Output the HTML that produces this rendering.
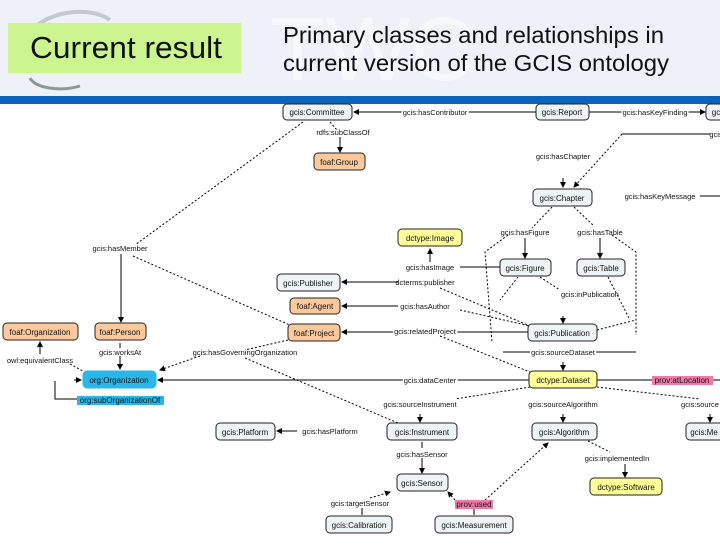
<!DOCTYPE html>
<html><head><meta charset="utf-8"><style>
body{margin:0;width:720px;height:540px;overflow:hidden;background:#fff;font-family:"Liberation Sans",sans-serif}
</style></head><body>
<svg width="720" height="540" xmlns="http://www.w3.org/2000/svg" font-family="Liberation Sans, sans-serif">
<defs>
<marker id="a" markerWidth="6" markerHeight="6" refX="5" refY="3" orient="auto"><path d="M0,0L6,3L0,6z" fill="#000"/></marker>
</defs>
<rect x="0" y="0" width="720" height="96" fill="#eef1f8"/>
<text x="270" y="80" font-size="90" fill="#fff" opacity="0.5">TWC</text>
<path d="M25,40 C40,10 90,5 110,20" stroke="#c4c8d0" stroke-width="4" fill="none"/>
<path d="M30,78 C35,88 60,92 80,86" stroke="#8a9a90" stroke-width="3" fill="none"/>
<rect x="8" y="23" width="233" height="50" fill="#ccf590"/>
<text x="30" y="58" font-size="31" fill="#111" textLength="192" lengthAdjust="spacingAndGlyphs">Current result</text>
<text x="283" y="43" font-size="23.5" fill="#111" textLength="381" lengthAdjust="spacingAndGlyphs">Primary classes and relationships in</text>
<text x="283" y="71" font-size="23.5" fill="#111" textLength="386" lengthAdjust="spacingAndGlyphs">current version of the GCIS ontology</text>
<rect x="0" y="96" width="720" height="8" fill="#0b63be"/>

<g stroke="#000" stroke-width="1" fill="none">
<line x1="536" y1="112" x2="354" y2="112" marker-end="url(#a)"/>
<line x1="589" y1="112" x2="705" y2="112" marker-end="url(#a)"/>
<line x1="330" y1="122" x2="337" y2="130" stroke-dasharray="2,2"/>
<line x1="340" y1="137" x2="340" y2="152" marker-end="url(#a)"/>
<line x1="303" y1="122" x2="135" y2="245" stroke-dasharray="2,2"/>
<line x1="121" y1="254" x2="121" y2="322" marker-end="url(#a)"/>
<line x1="133" y1="256" x2="292" y2="326" stroke-dasharray="2,2"/>
<line x1="622" y1="134" x2="710" y2="134"/>
<line x1="622" y1="134" x2="574" y2="187" stroke-dasharray="2,2" marker-end="url(#a)"/>
<line x1="563" y1="178" x2="563" y2="187" marker-end="url(#a)"/>
<line x1="700" y1="196" x2="720" y2="196"/>
<line x1="552" y1="207" x2="532" y2="228" stroke-dasharray="2,2"/>
<line x1="574" y1="207" x2="594" y2="226" stroke-dasharray="2,2"/>
<line x1="525" y1="238" x2="525" y2="258" marker-end="url(#a)"/>
<line x1="600" y1="238" x2="600" y2="258" marker-end="url(#a)"/>
<polyline points="508,235 485,252 492,342" stroke-dasharray="2,2"/>
<polyline points="612,235 636,252 636,335" stroke-dasharray="2,2"/>
<line x1="500" y1="267" x2="460" y2="267"/>
<line x1="430" y1="262" x2="430" y2="249" marker-end="url(#a)"/>
<line x1="398" y1="282" x2="342" y2="282" marker-end="url(#a)"/>
<line x1="398" y1="306" x2="342" y2="306" marker-end="url(#a)"/>
<line x1="528" y1="332" x2="342" y2="332" marker-end="url(#a)"/>
<line x1="518" y1="277" x2="500" y2="300" stroke-dasharray="2,2"/>
<line x1="540" y1="277" x2="560" y2="290" stroke-dasharray="2,2"/>
<line x1="608" y1="277" x2="630" y2="320" stroke-dasharray="2,2"/>
<line x1="440" y1="288" x2="530" y2="326" stroke-dasharray="2,2"/>
<line x1="460" y1="310" x2="530" y2="326" stroke-dasharray="2,2"/>
<line x1="597" y1="330" x2="636" y2="320" stroke-dasharray="2,2"/>
<line x1="563" y1="316" x2="563" y2="323" marker-end="url(#a)"/>
<line x1="503" y1="352" x2="636" y2="352"/>
<line x1="563" y1="362" x2="563" y2="370" marker-end="url(#a)"/>
<line x1="440" y1="336" x2="530" y2="372" stroke-dasharray="2,2"/>
<line x1="529" y1="380" x2="158" y2="380" marker-end="url(#a)"/>
<line x1="597" y1="380" x2="720" y2="380"/>
<line x1="530" y1="387" x2="455" y2="399" stroke-dasharray="2,2"/>
<line x1="597" y1="387" x2="700" y2="399" stroke-dasharray="2,2"/>
<line x1="420" y1="414" x2="420" y2="422" marker-end="url(#a)"/>
<line x1="563" y1="414" x2="563" y2="422" marker-end="url(#a)"/>
<line x1="710" y1="414" x2="710" y2="422" marker-end="url(#a)"/>
<line x1="288" y1="340" x2="245" y2="350" stroke-dasharray="2,2"/>
<line x1="200" y1="356" x2="160" y2="370" stroke-dasharray="2,2" marker-end="url(#a)"/>
<line x1="245" y1="358" x2="398" y2="423" stroke-dasharray="2,2"/>
<line x1="297" y1="431" x2="277" y2="431" marker-end="url(#a)"/>
<line x1="422" y1="442" x2="422" y2="448"/>
<line x1="422" y1="458" x2="422" y2="473" marker-end="url(#a)"/>
<line x1="588" y1="441" x2="610" y2="452" stroke-dasharray="2,2"/>
<line x1="625" y1="464" x2="625" y2="477" marker-end="url(#a)"/>
<line x1="370" y1="498" x2="390" y2="492" stroke-dasharray="2,2" marker-end="url(#a)"/>
<line x1="362" y1="508" x2="362" y2="515"/>
<line x1="455" y1="500" x2="448" y2="492" stroke-dasharray="2,2" marker-end="url(#a)"/>
<line x1="485" y1="500" x2="548" y2="443" stroke-dasharray="2,2" marker-end="url(#a)"/>
<line x1="474" y1="509" x2="474" y2="515"/>
<line x1="120" y1="343" x2="120" y2="348"/>
<line x1="120" y1="356" x2="120" y2="369" marker-end="url(#a)"/>
<line x1="40" y1="354" x2="40" y2="342" marker-end="url(#a)"/>
<line x1="70" y1="364" x2="83" y2="371" stroke-dasharray="2,2"/>
<polyline points="55,381 55,399 77,399"/>
<line x1="74" y1="380" x2="81" y2="380" marker-end="url(#a)"/>
</g>

<g stroke="#222" stroke-width="1">
<rect x="283" y="104" width="69" height="16" rx="4" fill="#eef3f5"/>
<rect x="536" y="104" width="53" height="16" rx="4" fill="#eef3f5"/>
<rect x="706" y="104" width="20" height="16" rx="4" fill="#eef3f5"/>
<rect x="314" y="153" width="51" height="17" rx="4" fill="#fcc99c"/>
<rect x="533" y="189" width="59" height="17" rx="4" fill="#eef3f5"/>
<rect x="398" y="229" width="64" height="17" rx="4" fill="#ffff99"/>
<rect x="500" y="259" width="51" height="17" rx="4" fill="#eef3f5"/>
<rect x="577" y="259" width="48" height="17" rx="4" fill="#eef3f5"/>
<rect x="277" y="274" width="63" height="17" rx="4" fill="#eef3f5"/>
<rect x="290" y="298" width="50" height="16" rx="4" fill="#fcc99c"/>
<rect x="288" y="324" width="52" height="17" rx="4" fill="#fcc99c"/>
<rect x="3" y="323" width="75" height="17" rx="4" fill="#fcc99c"/>
<rect x="95" y="323" width="51" height="17" rx="4" fill="#fcc99c"/>
<rect x="528" y="324" width="69" height="17" rx="4" fill="#eef3f5"/>
<rect x="83" y="371" width="73" height="17" rx="4" fill="#29b6e8" stroke="#29b6e8"/>
<rect x="529" y="371" width="68" height="17" rx="4" fill="#ffff99"/>
<rect x="216" y="423" width="59" height="17" rx="4" fill="#eef3f5"/>
<rect x="387" y="423" width="70" height="17" rx="4" fill="#eef3f5"/>
<rect x="532" y="423" width="65" height="17" rx="4" fill="#eef3f5"/>
<rect x="686" y="423" width="40" height="17" rx="4" fill="#eef3f5"/>
<rect x="397" y="474" width="51" height="17" rx="4" fill="#eef3f5"/>
<rect x="590" y="478" width="72" height="17" rx="4" fill="#ffff99"/>
<rect x="326" y="516" width="66" height="17" rx="4" fill="#eef3f5"/>
<rect x="435" y="516" width="78" height="17" rx="4" fill="#eef3f5"/>
</g>
<rect x="77" y="396" width="87" height="9" fill="#29b6e8"/>
<rect x="652" y="376" width="61" height="9" fill="#f07aa8"/>
<rect x="455" y="500" width="38" height="9" fill="#f07aa8"/>

<g font-size="8" fill="#111" text-anchor="middle">
<text x="317" y="115">gcis:Committee</text>
<text x="562" y="115">gcis:Report</text>
<text x="716" y="115">gc</text>
<text x="339" y="165">foaf:Group</text>
<text x="562" y="201">gcis:Chapter</text>
<text x="430" y="241">dctype:Image</text>
<text x="525" y="271">gcis:Figure</text>
<text x="601" y="271">gcis:Table</text>
<text x="308" y="286">gcis:Publisher</text>
<text x="315" y="309">foaf:Agent</text>
<text x="314" y="336">foaf:Project</text>
<text x="40" y="335">foaf:Organization</text>
<text x="120" y="335">foaf:Person</text>
<text x="562" y="336">gcis:Publication</text>
<text x="119" y="383">org:Organization</text>
<text x="563" y="383">dctype:Dataset</text>
<text x="245" y="435">gcis:Platform</text>
<text x="422" y="435">gcis:Instrument</text>
<text x="564" y="435">gcis:Algorithm</text>
<text x="704" y="435">gcis:Me</text>
<text x="422" y="486">gcis:Sensor</text>
<text x="626" y="490">dctype:Software</text>
<text x="359" y="528">gcis:Calibration</text>
<text x="474" y="528">gcis:Measurement</text>
<text x="120" y="403">org:subOrganizationOf</text>
<text x="682" y="383">prov:atLocation</text>
<text x="474" y="507">prov:used</text>
</g>
<g font-size="7.5" fill="#111" text-anchor="middle">
<text x="435" y="115" style="paint-order:stroke" stroke="#fff" stroke-width="3">gcis:hasContributor</text>
<text x="655" y="115" style="paint-order:stroke" stroke="#fff" stroke-width="3">gcis:hasKeyFinding</text>
<text x="343" y="135">rdfs:subClassOf</text>
<text x="716" y="137">gcis</text>
<text x="563" y="159">gcis:hasChapter</text>
<text x="660" y="199">gcis:hasKeyMessage</text>
<text x="525" y="235">gcis:hasFigure</text>
<text x="600" y="235">gcis:hasTable</text>
<text x="120" y="251">gcis:hasMember</text>
<text x="430" y="270">gcis:hasImage</text>
<text x="425" y="285">dcterms:publisher</text>
<text x="425" y="309">gcis:hasAuthor</text>
<text x="590" y="297">gcis:inPublication</text>
<text x="425" y="334" style="paint-order:stroke" stroke="#fff" stroke-width="3">gcis:relatedProject</text>
<text x="563" y="355" style="paint-order:stroke" stroke="#fff" stroke-width="3">gcis:sourceDataset</text>
<text x="120" y="355">gcis:worksAt</text>
<text x="245" y="355">gcis:hasGoverningOrganization</text>
<text x="40" y="363">owl:equivalentClass</text>
<text x="430" y="383" style="paint-order:stroke" stroke="#fff" stroke-width="3">gcis:dataCenter</text>
<text x="420" y="407">gcis:sourceInstrument</text>
<text x="563" y="407">gcis:sourceAlgorithm</text>
<text x="700" y="407">gcis:source</text>
<text x="330" y="434">gcis:hasPlatform</text>
<text x="422" y="457">gcis:hasSensor</text>
<text x="617" y="461">gcis:implementedIn</text>
<text x="360" y="506">gcis:targetSensor</text>
</g>
</svg>
</body></html>
